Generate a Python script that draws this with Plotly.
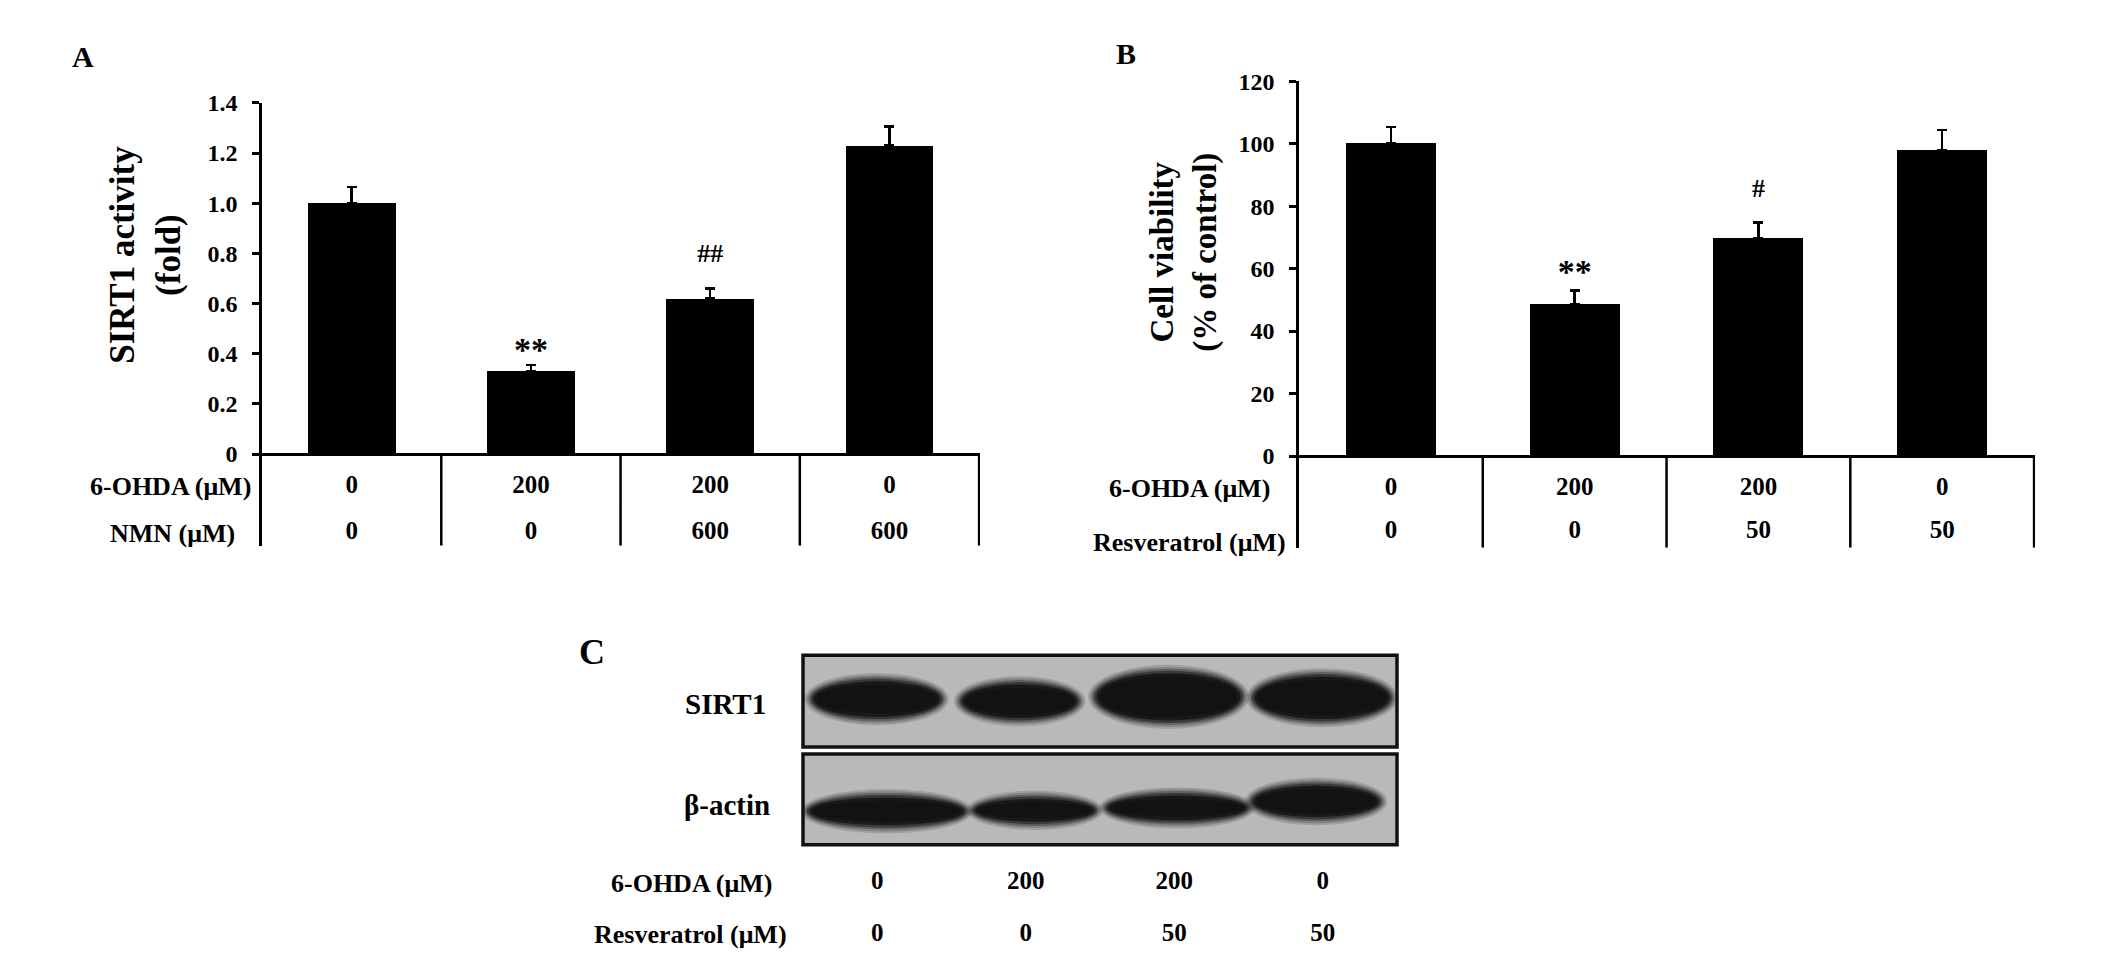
import plotly.graph_objects as go

# ---------------- data ----------------
groups = [1, 2, 3, 4]

# panel A: SIRT1 activity (fold)
sirt1_activity = [1.00, 0.33, 0.62, 1.23]
sirt1_err = [0.065, 0.025, 0.04, 0.075]
a_ohda = ['0', '200', '200', '0']
a_nmn = ['0', '0', '600', '600']
a_ticks = [0, 0.2, 0.4, 0.6, 0.8, 1.0, 1.2, 1.4]
a_ticktext = ['0', '0.2', '0.4', '0.6', '0.8', '1.0', '1.2', '1.4']

# panel B: cell viability (% of control)
viability = [100.0, 48.7, 69.6, 98.0]
viability_err = [5.4, 4.3, 5.2, 6.3]
b_ohda = ['0', '200', '200', '0']
b_resv = ['0', '0', '50', '50']
b_ticks = [0, 20, 40, 60, 80, 100, 120]

# panel C: western blot bands (centre / width in lane units, centre / height in % of blot height)
sirt1_band_x = [0.996, 1.959, 2.962, 3.995]
sirt1_band_w = [0.889, 0.805, 1.003, 0.943]
sirt1_band_y = [76.9, 75.8, 78.1, 77.6]
sirt1_band_h = [21.4, 20.3, 27.6, 25.0]
actin_band_x = [1.064, 2.060, 3.019, 3.955]
actin_band_w = [1.077, 0.839, 0.970, 0.879]
actin_band_y = [17.7, 18.2, 19.5, 22.9]
actin_band_h = [17.2, 14.6, 15.6, 19.0]
c_ohda = ['0', '200', '200', '0']
c_resv = ['0', '0', '50', '50']

SERIF = 'Liberation Serif'
W, H = 2126, 968
OX, OY = 8, 8   # page body margin


def px(x):
    return (x - OX) / W


def py(y):
    return 1 - (y - OY) / H


def bold(size):
    return dict(family=SERIF, size=size, color='black', weight='bold')


fig = go.Figure()

# ---- bars ----
for vals, errs, ax in [(sirt1_activity, sirt1_err, 'x'), (viability, viability_err, 'x2')]:
    fig.add_trace(go.Bar(
        x=groups, y=vals, width=0.49,
        marker=dict(color='black', line=dict(width=0)),
        error_y=dict(type='data', symmetric=False, array=errs, arrayminus=[0] * 4,
                     color='black', thickness=2.5, width=5),
        xaxis=ax, yaxis=ax.replace('x', 'y'), showlegend=False, hoverinfo='skip'))


def text_row(x, y, labels, ax, size=25):
    fig.add_trace(go.Scatter(
        x=x, y=y, text=labels, mode='text', textfont=bold(size),
        cliponaxis=False, xaxis=ax, yaxis=ax.replace('x', 'y'),
        showlegend=False, hoverinfo='skip'))


# table values under the bars
text_row(groups, [-0.13] * 4, a_ohda, 'x')
text_row(groups, [-0.315] * 4, a_nmn, 'x')
text_row(groups, [-10.4] * 4, b_ohda, 'x2')
text_row(groups, [-24.3] * 4, b_resv, 'x2')

# significance marks
text_row([2], [0.405], ['**'], 'x', size=34)
text_row([3], [0.79], ['##'], 'x', size=26)
text_row([2], [58.0], ['**'], 'x2', size=34)
text_row([3], [85.0], ['#'], 'x2', size=26)

# blot lane values
text_row(groups, [-20.3] * 4, c_ohda, 'x3')
text_row(groups, [-47.4] * 4, c_resv, 'x3')

shapes = []
# table dividers
for ax, ybot in [('x', -0.366), ('x2', -29.4)]:
    for b in [1.5, 2.5, 3.5, 4.5]:
        shapes.append(dict(type='line', xref=ax, yref=ax.replace('x', 'y'),
                           x0=b, x1=b, y0=0, y1=ybot,
                           line=dict(color='black', width=2.5)))

# ---- western blot ----
for y0, y1 in [(51.6, 100), (0, 47.9)]:
    shapes.append(dict(type='rect', xref='x3', yref='y3', x0=0.5, x1=4.5, y0=y0, y1=y1,
                       fillcolor='#b9b9b9', line=dict(width=0), layer='below'))

# soft band edges: a few stacked ellipses, growing outward and fading
halo = [(6, 0.15), (4, 0.2), (2, 0.3), (0, 0.5), (-2.5, 0.8), (-6, 1.0)]
for bx, bw, by, bh in (list(zip(sirt1_band_x, sirt1_band_w, sirt1_band_y, sirt1_band_h)) +
                       list(zip(actin_band_x, actin_band_w, actin_band_y, actin_band_h))):
    for grow, op in halo:
        dx = grow / 148.5
        dy = grow / 1.92
        shapes.append(dict(type='circle', xref='x3', yref='y3',
                           x0=bx - bw / 2 - dx, x1=bx + bw / 2 + dx,
                           y0=by - bh / 2 - dy, y1=by + bh / 2 + dy,
                           fillcolor='#121212', opacity=op, line=dict(width=0)))

for y0, y1 in [(51.6, 100), (0, 47.9)]:
    shapes.append(dict(type='rect', xref='x3', yref='y3', x0=0.5, x1=4.5, y0=y0, y1=y1,
                       line=dict(color='#111111', width=3.5)))

annotations = [
    # panel letters
    dict(text='A', x=px(83), y=py(44), font=bold(30)),
    dict(text='B', x=px(1126), y=py(41), font=bold(30)),
    dict(text='C', x=px(592), y=py(648), font=bold(36)),
    # axis titles
    dict(text='SIRT1 activity<br>(fold)', x=px(146), y=py(245), textangle=-90, font=bold(35)),
    dict(text='Cell viability<br>(% of control)', x=px(1184), y=py(243), textangle=-90, font=bold(33)),
]
for a in annotations:
    a.update(xref='paper', yref='paper', xanchor='center', yanchor='middle', showarrow=False)

# row labels
row_labels = [
    ('6-OHDA (\u03bcM)', 'x', 'y', -0.13, -9),
    ('NMN (\u03bcM)', 'x', 'y', -0.315, -25),
    ('6-OHDA (\u03bcM)', 'x2', 'y2', -10.4, -27),
    ('Resveratrol (\u03bcM)', 'x2', 'y2', -27.8, -11),
]
for txt, xr, yr, yv, shift in row_labels:
    annotations.append(dict(text=txt, xref=xr, yref=yr, x=0.5, y=yv, xshift=shift,
                            xanchor='right', yanchor='middle', showarrow=False, font=bold(26)))

# blot labels
for txt, yv, shift in [('SIRT1', 74.5, -35), ('\u03b2-actin', 20.8, -31),
                       ('6-OHDA (\u03bcM)', -20.3, -29), ('Resveratrol (\u03bcM)', -47.4, -14)]:
    annotations.append(dict(text=txt, xref='x3', yref='y3', x=0.5, y=yv, xshift=shift,
                            xanchor='right', yanchor='middle', showarrow=False,
                            font=bold(29 if yv > 0 else 26)))

yax_common = dict(showline=True, linecolor='black', linewidth=2.5, ticks='outside',
                  ticklen=7, tickwidth=2.5, tickcolor='black', showgrid=False,
                  zeroline=True, zerolinecolor='black', zerolinewidth=2.5,
                  tickfont=bold(24), ticklabelstandoff=10, tickmode='array')
xax_common = dict(visible=False, showgrid=False, zeroline=False)

fig.update_layout(
    width=W, height=H,
    margin=dict(l=0, r=0, t=0, b=0),
    paper_bgcolor='white', plot_bgcolor='rgba(0,0,0,0)',
    showlegend=False, bargap=0,
    xaxis=dict(domain=[px(262), px(980)], range=[0.5, 4.505], anchor='y', **xax_common),
    yaxis=dict(domain=[py(540), py(91)], range=[-0.366, 1.4], anchor='x',
               tickvals=a_ticks, ticktext=a_ticktext, **yax_common),
    xaxis2=dict(domain=[px(1299), px(2035)], range=[0.5, 4.505], anchor='y2', **xax_common),
    yaxis2=dict(domain=[py(542), py(69)], range=[-29.4, 120], anchor='x2',
                tickvals=b_ticks, ticktext=[str(t) for t in b_ticks], **yax_common),
    xaxis3=dict(domain=[px(800.03), px(1399.97)], range=[0.48, 4.52], anchor='y3', **xax_common),
    yaxis3=dict(domain=[py(948.6), py(648.1)], range=[-55, 101.5], anchor='x3',
                visible=False, showgrid=False, zeroline=False),
    shapes=shapes,
    annotations=annotations,
)

fig.write_html('out.html')
